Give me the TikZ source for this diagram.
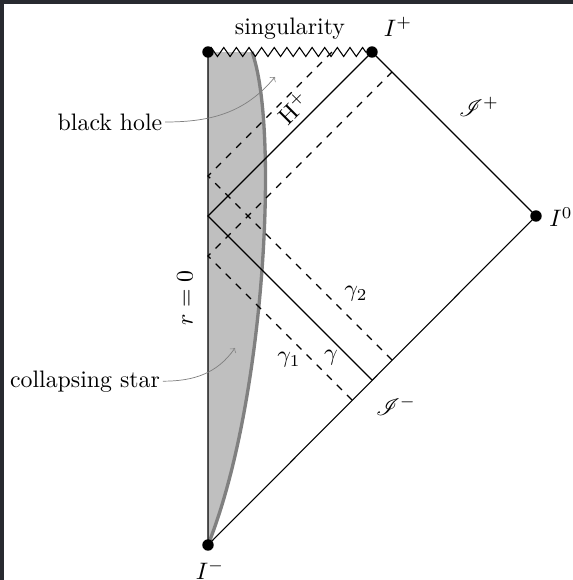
\documentclass[tikz,border=0pt]{standalone}
\usepackage{mathrsfs}
\usetikzlibrary{decorations.pathmorphing}
\definecolor{framecol}{RGB}{40,42,48}
\begin{document}
\begin{tikzpicture}[x=0.42pt,y=-0.42pt,
  dot/.style={circle,fill=black,inner sep=0pt,minimum size=4.8pt},
  lbl/.style={inner sep=1pt},
  ray/.style={line width=0.45pt},
  dray/.style={line width=0.45pt,dashed},
  pointer/.style={->,gray,line width=0.3pt},
  star/.style={gray,line width=1.4pt}]
\useasboundingbox (0,0) rectangle (573,580);
\fill[framecol] (0,0) rectangle (3.5,580);
\fill[framecol] (0,0) rectangle (573,4);
% key points
\coordinate (Im) at (208,545);
\coordinate (S) at (208,52);
\coordinate (Ip) at (372,52);
\coordinate (I0) at (536,216);
\coordinate (O) at (208,216);
\coordinate (g1a) at (352,400);
\coordinate (g1b) at (208,256);
\coordinate (g1c) at (392,72);
\coordinate (g2a) at (392,360);
\coordinate (g2b) at (208,176);
\coordinate (g2c) at (332,52);
\coordinate (ga) at (372,380);
\coordinate (Top) at (252,52);
% star
\fill[gray!50] (Im) .. controls (266,400) and (279,125) .. (Top) -- (S) -- cycle;
\draw[star] (Im) .. controls (266,400) and (279,125) .. (Top);
% boundaries
\draw[ray] (S) -- (Im) -- (I0) -- (Ip);
\draw[ray,decorate,decoration={zigzag,segment length=5.3pt,amplitude=1.9pt}] (S) -- (Ip);
% rays
\draw[ray] (ga) -- (O) -- (Ip);
\draw[dray] (g1a) -- (g1b) -- (g1c);
\draw[dray] (g2a) -- (g2b) -- (g2c);
% dots
\node[dot] (dS) at (S) {};
\node[dot] (dIp) at (Ip) {};
\node[dot] (dI0) at (I0) {};
\node[dot] (dIm) at (Im) {};
% labels
\node[lbl,anchor=base] (sing) at (290,34) {singularity};
\node[lbl] (lIp) at (398,27) {$I^+$};
\node[lbl] (lI0) at (561,217) {$I^0$};
\node[lbl] (lIm) at (210,570) {$I^-$};
\node[lbl] (scrp) at (479,107) {$\mathscr{I}^+$};
\node[lbl] (scrm) at (396,406) {$\mathscr{I}^-$};
\node[lbl] (lg2) at (356,294) {$\gamma_2$};
\node[lbl] (lg1) at (289,360) {$\gamma_1$};
\node[lbl] (lg) at (331,358) {$\gamma$};
\node[lbl,rotate=45] (lH) at (293,108) {$\mathrm{H}^+$};
\node[lbl,rotate=90] (lr) at (185,298) {$r=0$};
\node[lbl] (bh) at (110,122) {black hole};
\node[lbl,anchor=base] (cs) at (85,387) {collapsing star};
% pointers
\coordinate (bhT) at (275,77);
\coordinate (csT) at (235,348);
\draw[pointer] (bh.east) to[out=0,in=-130] (bhT);
\draw[pointer] (cs.east) to[out=0,in=-125] (csT);
\end{tikzpicture}
\end{document}
